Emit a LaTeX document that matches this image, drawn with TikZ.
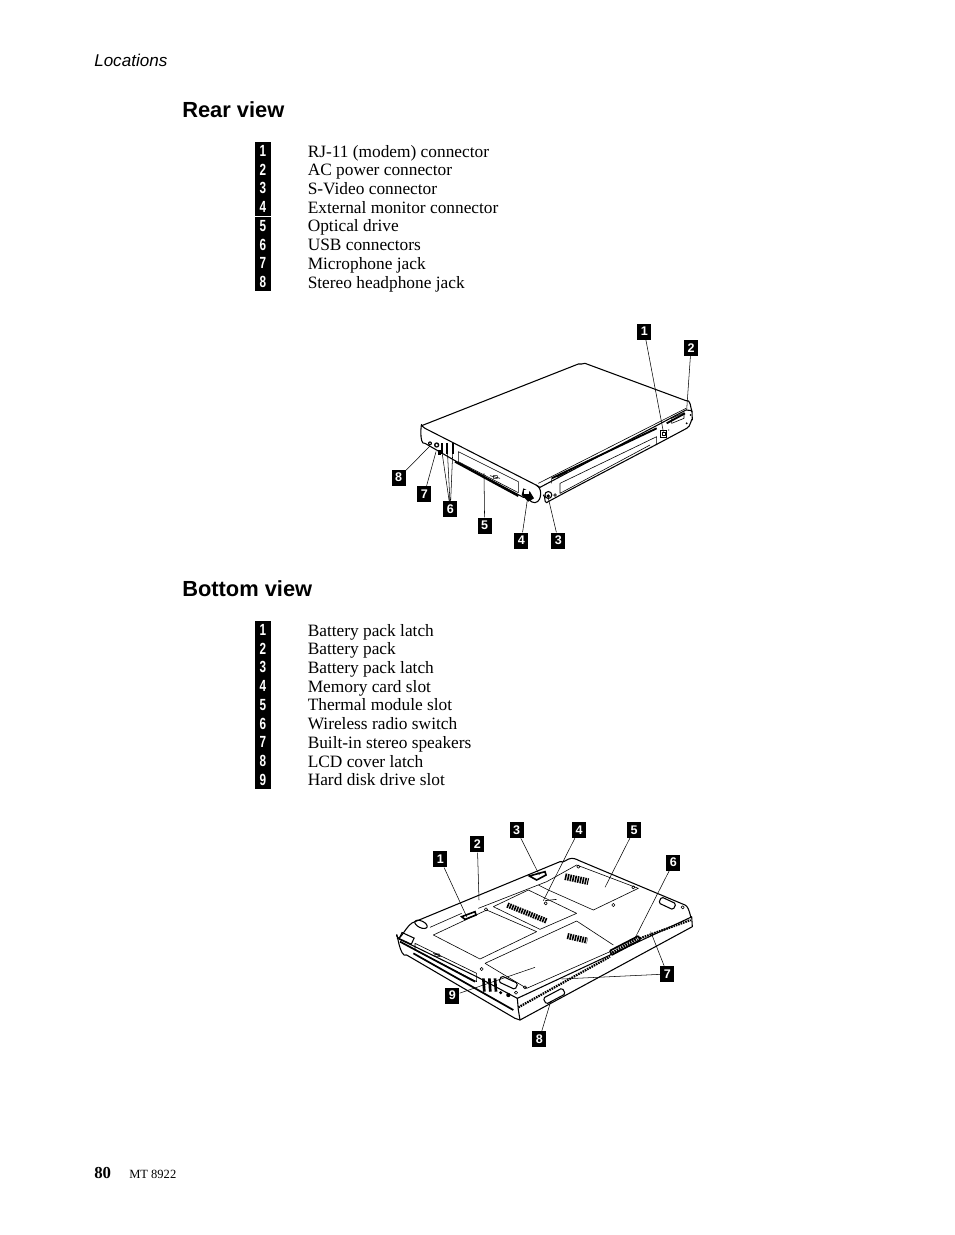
\documentclass[tikz,border=0pt]{standalone}
\usepackage{graphicx}
\usepackage{fontspec}
\setmainfont{Liberation Serif}
\setsansfont{Liberation Sans}
\tikzset{
	listtext/.style={anchor=base west, inner sep=0pt, font=\fontsize{13}{14}\selectfont},
	listnum/.style={fill=black, text=white, inner sep=0pt, minimum width=11.4pt, minimum height=14pt, font=\sffamily\bfseries\fontsize{11}{11}\selectfont},
	callnum/.style={fill=black, text=white, inner sep=0pt, minimum width=10.6pt, minimum height=12pt, font=\sffamily\bfseries\fontsize{9.4}{9}\selectfont},
	heading/.style={anchor=base west, inner sep=0pt, font=\sffamily\bfseries\fontsize{16.4}{18}\selectfont},
	body/.style={line width=.8pt, line join=round, line cap=round},
	thin part/.style={line width=.45pt, line join=round},
	grille/.style={line width=1.7pt, dash pattern=on 1.2pt off .7pt},
	lead/.style={line width=.4pt}
}
\begin{document}
\begin{tikzpicture}[x=.75pt, y=-.75pt]
	\fill[white] (0,0) rectangle (954,1235);
	\useasboundingbox (0,0) rectangle (954,1235);
	\node[anchor=base west, inner sep=0pt, font=\sffamily\itshape\fontsize{12.8}{14}\selectfont] (running) at (94,66) {Locations};
	\node[heading] (rearhead) at (182,117) {Rear view};
	\node[heading] (bottomhead) at (182,596) {Bottom view};
	\node[anchor=base west, inner sep=0pt, font=\bfseries\fontsize{12.6}{14}\selectfont] (pageno) at (94,1178) {80};
	\node[anchor=base west, inner sep=0pt, font=\fontsize{9.4}{10}\selectfont] (mtno) at (129,1178) {MT 8922};
	% first list
	\foreach \i/\t in {1/RJ-11 (modem) connector,2/AC power connector,3/S-Video connector,4/External monitor connector,5/Optical drive,6/USB connectors,7/Microphone jack,8/Stereo headphone jack}{
		\node[listnum] (rl\i) at (263,{151+18.72*(\i-1)}) {\scalebox{.8}[1.1]{\i}};
		\node[listtext] (rt\i) at (307.5,{157+18.72*(\i-1)}) {\t};
	}
	% second list
	\foreach \i/\t in {1/Battery pack latch,2/Battery pack,3/Battery pack latch,4/Memory card slot,5/Thermal module slot,6/Wireless radio switch,7/Built-in stereo speakers,8/LCD cover latch,9/Hard disk drive slot}{
		\node[listnum] (bl\i) at (263,{630+18.72*(\i-1)}) {\scalebox{.8}[1.1]{\i}};
		\node[listtext] (bt\i) at (307.5,{636+18.72*(\i-1)}) {\t};
	}
	% rear laptop, coordinates read from the 3x crop
	\begin{scope}[shift={(380,310)}, x=.25pt, y=-.25pt]
	\draw[body] (125,347) -- (595,162) to[out=-20,in=180] (615,160) -- (918,272) to[out=20,in=110] (936,305) -- (937,330) to[out=100,in=10] (920,355) -- (830,403) -- (560,545) -- (510,572) to[out=170,in=0] (500,578) to[out=170,in=-30] (490,555);
	\draw[body] (125,347) to[out=90,in=200] (135,400) -- (225,452) -- (430,562) to[out=25,in=190] (465,578) to[out=10,in=-90] (482,550) to[out=90,in=-30] (468,525) -- (135,355) -- cycle;
	\draw[body] (468,525) -- (480,532) -- (918,300) to[out=-30,in=100] (936,305);
	\draw[thin part] (475,520) -- (918,295);
	\draw[thin part] (235,425) -- (415,515) -- (415,548) -- (235,455) -- cycle;
	\draw[line width=1.5pt] (225,455) -- (415,558);
	\draw[line width=1.4pt] (515,505) -- (830,355) (860,340) -- (915,310);
	\draw[thin part] (515,505) -- (515,520) (540,520) -- (830,380) -- (830,403) (540,520) -- (540,550) -- (810,405);
	\draw[line width=1.2pt] (530,500) -- (560,485);
	\draw[thin part] (875,325) -- (912,308) -- (912,325) -- (875,340) -- cycle;
	\fill (430,535) -- (450,545) -- (462,565) -- (445,575) -- (425,555) -- cycle;
	\fill[white] (433,540) rectangle (447,552);
	\draw[thick] (505,555) circle (2.6pt);
	\fill (505,558) circle (1.4pt);
	\draw[thin part] (525,555) circle (1pt);
	\draw[thick] (842,362) rectangle (860,382);
	\draw[thin part] (847,367) rectangle (855,377);
	\fill (920,340) circle (.8pt) (866,360) circle (.5pt) (932,315) circle (.7pt);
	\fill (150,400) circle (1.5pt) (170,405) circle (2pt);
	\fill[white] (170,405) circle (1pt) (150,400) circle (.6pt);
	\foreach \i in {185,202,219} \draw[line width=1.6pt] (\i,400) -- (\i,432);
	\fill (175,420) rectangle (182,435);
	\draw[thin part] (330,497) -- (360,505) (340,497) rectangle (352,505);
	% callouts
	\node[callnum] (r1) at (793,65) {1};
	\node[callnum] (r2) at (933,113) {2};
	\node[callnum] (r3) at (535,692) {3};
	\node[callnum] (r4) at (424,692) {4};
	\node[callnum] (r5) at (314,647) {5};
	\node[callnum] (r6) at (211,597) {6};
	\node[callnum] (r7) at (133,552) {7};
	\node[callnum] (r8) at (56,503) {8};
	\coordinate (ra1) at (850,365);
	\coordinate (ra2) at (920,300);
	\coordinate (ra3) at (505,565);
	\coordinate (ra4) at (442,570);
	\coordinate (ra5) at (312,490);
	\coordinate (ra6) at (185,420);
	\coordinate (rb6) at (202,420);
	\coordinate (rc6) at (218,430);
	\coordinate (ra7) at (168,425);
	\coordinate (ra8) at (150,408);
	\draw[lead] (r1) -- (ra1) (r2) -- (ra2) (r3) -- (ra3) (r4) -- (ra4) (r5) -- (ra5);
	\draw[lead] (r6) -- (ra6) (r6) -- (rb6) (r6) -- (rc6) (r7) -- (ra7) (r8) -- (ra8);
	\end{scope}
	% bottom laptop
	\begin{scope}[shift={(380,810)}, x=.25pt, y=-.25pt]
	\draw[body] (50,378) to[out=-70,in=190] (105,335) -- (540,155) to[out=-20,in=180] (575,145) to[out=0,in=160] (605,155) -- (915,285) to[out=-20,in=-100] (935,320) -- (937,350) -- (420,630) -- (405,625) -- (80,435) to[out=210,in=90] (50,378) -- cycle;
	\draw[body] (52,385) -- (105,410) -- (290,500) -- (412,565) -- (932,322);
	\draw[body] (412,565) -- (415,600) -- (420,630);
	\draw[thin part] (150,352) -- (245,310) (295,295) -- (500,215) -- (590,165) -- (775,235) -- (640,300) -- (505,240) -- (475,225);
	\draw[thin part] (160,375) -- (320,300) -- (470,365) -- (300,447) -- cycle;
	\draw[thin part] (340,290) -- (445,240) -- (590,310) -- (480,358) -- cycle;
	\draw[thin part] (315,460) -- (590,333) -- (700,405) (315,460) -- (440,535) -- (690,425);
	\draw[thin part] (105,400) -- (290,490) -- (290,515) -- (105,420) -- cycle;
	\draw[line width=1.3pt] (60,395) -- (285,515) (100,430) -- (400,600);
	\draw[grille] (415,592) -- (690,440) (780,385) -- (932,330);
	\draw[grille, line width=4pt] (382,285) -- (500,333);
	\draw[grille, line width=5pt] (555,200) -- (625,215);
	\draw[grille, line width=4.5pt] (562,378) -- (622,392);
	\draw[line width=1.3pt, rounded corners=.5pt, fill=white] (690,422) -- (775,378) -- (780,390) -- (695,435) -- cycle;
	\draw[grille, line width=2pt] (697,428) -- (772,386);
	\draw[line width=1.2pt] (245,320) -- (285,305) -- (288,315) -- (255,328) -- cycle;
	\draw[line width=1.2pt] (448,198) -- (495,185) -- (498,195) -- (470,210) -- cycle;
	\draw[thick, rotate around={-25:(123,343)}] (123,343) ellipse (5pt and 2.5pt);
	\draw[thick, rotate around={-25:(862,280)}, rounded corners=1.2pt] (838,270) rectangle (886,290);
	\draw[thick, rotate around={-25:(385,518)}, rounded corners=1.2pt] (358,508) rectangle (412,528);
	\draw[thick, rotate around={28:(525,557)}, rounded corners=1.2pt, fill=white] (490,547) rectangle (555,567);
	\draw[thick, rotate around={-25:(80,385)}] (60,375) rectangle (100,395);
	\foreach \i in {(497,280),(700,285),(760,232),(305,477),(435,532),(318,298),(595,170),(408,548),(908,292)} \draw[thin part] \i circle (1.2pt);
	\foreach \i in {310,328,345} \draw[line width=2pt] (\i,505) -- (\i+3,545);
	\fill (362,548) circle (1.3pt) (385,555) circle (1.6pt);
	\draw[thin part] (160,430) -- (185,440) (165,432) rectangle (178,440);
	\draw[thin part] (495,272) -- (530,268);
	% callouts
	\node[callnum] (b1) at (181,148) {1};
	\node[callnum] (b2) at (292,103) {2};
	\node[callnum] (b3) at (410,60) {3};
	\node[callnum] (b4) at (597,60) {4};
	\node[callnum] (b5) at (762,60) {5};
	\node[callnum] (b6) at (880,158) {6};
	\node[callnum] (b7) at (862,492) {7};
	\node[callnum] (b8) at (478,687) {8};
	\node[callnum] (b9) at (217,557) {9};
	\coordinate (ba1) at (260,320);
	\coordinate (ba2) at (297,270);
	\coordinate (ba3) at (478,195);
	\coordinate (ba4) at (490,272);
	\coordinate (ba5) at (675,232);
	\coordinate (ba6) at (762,390);
	\coordinate (ba7) at (812,365);
	\coordinate (bb7) at (545,507);
	\coordinate (ba8) at (512,575);
	\coordinate (ba9) at (465,472);
	\draw[lead] (b1) -- (ba1) (b2) -- (ba2) (b3) -- (ba3) (b4) -- (ba4) (b5) -- (ba5) (b6) -- (ba6);
	\draw[lead] (b7) -- (ba7) (b7) -- (bb7) (b8) -- (ba8) (b9) -- (ba9);
	\end{scope}
\end{tikzpicture}
\end{document}
